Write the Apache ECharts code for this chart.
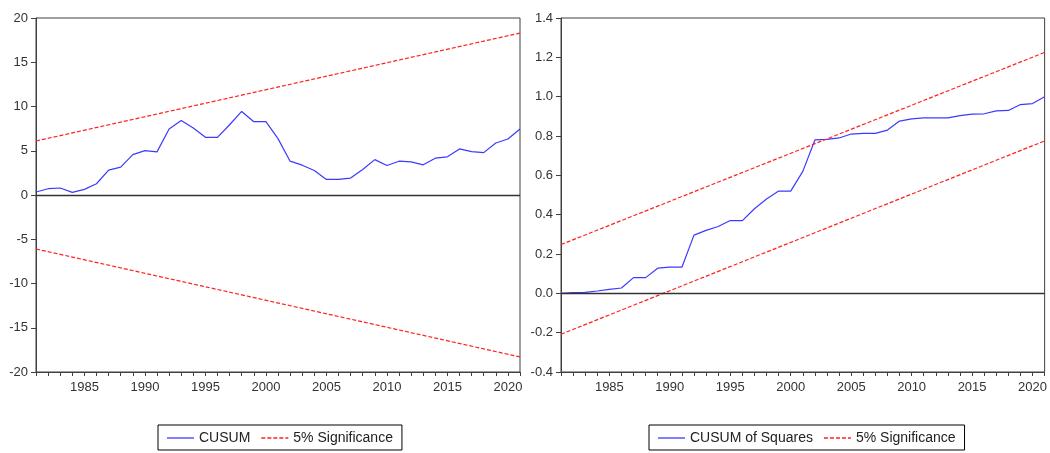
<!DOCTYPE html>
<html>
<head>
<meta charset="utf-8">
<script src="https://cdn.jsdelivr.net/npm/echarts@6/dist/echarts.min.js"></script>
<style>html,body{margin:0;padding:0;background:#fff}#c{width:1050px;height:453px}</style>
</head>
<body>
<div id="c"></div>
<script>
const years = ['1981','1982','1983','1984','1985','1986','1987','1988','1989','1990',
  '1991','1992','1993','1994','1995','1996','1997','1998','1999','2000',
  '2001','2002','2003','2004','2005','2006','2007','2008','2009','2010',
  '2011','2012','2013','2014','2015','2016','2017','2018','2019','2020','2021'];

const cusum = [0.34,0.71,0.79,0.30,0.64,1.27,2.81,3.15,4.57,5.02,
  4.87,7.45,8.43,7.57,6.52,6.52,7.94,9.44,8.28,8.28,
  6.37,3.82,3.37,2.77,1.76,1.76,1.91,2.88,4.00,3.33,
  3.82,3.75,3.41,4.16,4.31,5.21,4.91,4.79,5.88,6.33,7.45];

const cusumUpper = [['1981', 6.1], ['2021', 18.3]];
const cusumLower = [['1981', -6.1], ['2021', -18.3]];

const cusumSq = [0.000,0.004,0.005,0.012,0.020,0.027,0.080,0.080,0.128,0.133,
  0.133,0.296,0.320,0.340,0.370,0.370,0.430,0.480,0.520,0.520,
  0.620,0.780,0.783,0.790,0.810,0.813,0.813,0.830,0.876,0.887,
  0.892,0.892,0.892,0.904,0.911,0.913,0.928,0.930,0.960,0.965,1.000];

const sqUpper = [['1981', 0.248], ['2021', 1.225]];
const sqLower = [['1981', -0.208], ['2021', 0.775]];

const leftYTicks = {min: -20, max: 20, interval: 5};
const rightYTicks = {min: -0.4, max: 1.4, interval: 0.2};

const FONT = "'Liberation Sans', Arial, sans-serif";
const AXC = '#404040';
const BLUE = '#3b3bff';
const RED = '#ff2020';

const SOLID_ICON = 'path://M0,0h27v1.3h-27z';
const DASH_ICON = 'path://M0,0h4v1.3h-4z M6,0h4v1.3h-4z M12,0h4v1.3h-4z M18,0h4v1.3h-4z M24,0h3v1.3h-3z';

function xAxis(gi) {
  return {
    type: 'category', gridIndex: gi, data: years, boundaryGap: false,
    axisLine: {show: true, onZero: false, lineStyle: {color: AXC, width: 1}},
    axisTick: {show: true, interval: 0, length: 4, lineStyle: {color: AXC}},
    axisLabel: {
      interval: (i, v) => (+v) % 5 === 0,
      color: '#333', fontFamily: FONT, fontSize: 13, margin: 9
    },
    splitLine: {show: false}
  };
}
function yAxis(gi, t, fmt) {
  return {
    type: 'value', gridIndex: gi, min: t.min, max: t.max, interval: t.interval,
    axisLine: {show: true, lineStyle: {color: AXC, width: 1}},
    axisTick: {show: true, length: 5, lineStyle: {color: AXC}},
    axisLabel: {color: '#333', fontFamily: FONT, fontSize: 13, margin: 8, formatter: fmt},
    splitLine: {show: false}
  };
}
const zeroLine = {
  silent: true, symbol: 'none', label: {show: false},
  lineStyle: {color: '#333', type: 'solid', width: 1.3},
  data: [{yAxis: 0}]
};
const sigStyle = {color: RED, type: [4, 2], width: 1.2};

function legend(left, names) {
  return {
    left: left, top: 425, orient: 'horizontal',
    data: [
      {name: names[0], icon: SOLID_ICON, itemStyle: {color: BLUE}},
      {name: names[1], icon: DASH_ICON, itemStyle: {color: RED}}
    ],
    borderColor: '#000', borderWidth: 1, padding: [6, 9, 5, 9],
    itemWidth: 27, itemHeight: 14, itemGap: 11, symbolKeepAspect: true,
    textStyle: {fontFamily: FONT, fontSize: 14, color: '#222'},
    selectedMode: false
  };
}

const chart = echarts.init(document.getElementById('c'), null, {renderer: 'canvas'});
chart.setOption({
  animation: false,
  backgroundColor: '#fff',
  grid: [
    {left: 36, right: 530, top: 18, bottom: 81, show: true, borderColor: AXC, borderWidth: 1, backgroundColor: '#fff'},
    {left: 561, right: 4, top: 18, bottom: 81, show: true, borderColor: AXC, borderWidth: 1, backgroundColor: '#fff'}
  ],
  xAxis: [xAxis(0), xAxis(1)],
  yAxis: [
    yAxis(0, leftYTicks, v => String(v)),
    yAxis(1, rightYTicks, v => v.toFixed(1))
  ],
  legend: [
    legend(158, ['CUSUM', '5% Significance']),
    legend(649, ['CUSUM of Squares', '5% Significance'])
  ],
  series: [
    {name: 'CUSUM', type: 'line', xAxisIndex: 0, yAxisIndex: 0, data: cusum,
     symbol: 'none', lineStyle: {color: BLUE, width: 1.2}, itemStyle: {color: BLUE},
     markLine: zeroLine, z: 3},
    {name: '5% Significance', type: 'line', xAxisIndex: 0, yAxisIndex: 0, data: cusumUpper,
     symbol: 'none', lineStyle: sigStyle, itemStyle: {color: RED}},
    {name: '5% Significance', type: 'line', xAxisIndex: 0, yAxisIndex: 0, data: cusumLower,
     symbol: 'none', lineStyle: sigStyle, itemStyle: {color: RED}},
    {name: 'CUSUM of Squares', type: 'line', xAxisIndex: 1, yAxisIndex: 1, data: cusumSq,
     symbol: 'none', lineStyle: {color: BLUE, width: 1.2}, itemStyle: {color: BLUE},
     markLine: zeroLine, z: 3},
    {name: '5% Significance', type: 'line', xAxisIndex: 1, yAxisIndex: 1, data: sqUpper,
     symbol: 'none', lineStyle: sigStyle, itemStyle: {color: RED}},
    {name: '5% Significance', type: 'line', xAxisIndex: 1, yAxisIndex: 1, data: sqLower,
     symbol: 'none', lineStyle: sigStyle, itemStyle: {color: RED}}
  ]
});
</script>
</body>
</html>
